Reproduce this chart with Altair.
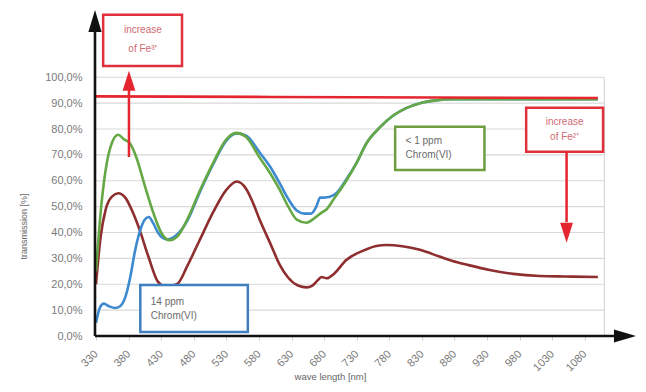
import altair as alt
import pandas as pd

# ---------------- data ----------------
green_nm = [330, 338, 346, 355, 364, 373, 382, 392, 405, 418, 430, 443, 455, 470, 490, 510, 530, 545, 560, 581,
            597, 612, 625, 638, 653, 665, 675, 684, 695, 714, 730, 745, 765, 785, 805, 827, 850, 875, 900, 950,
            1000, 1050, 1100]
green_val = [25, 50, 66, 75, 77.8, 76, 74.5, 69, 58, 47.6, 40, 37, 38.5, 45, 56.5, 67, 76, 78.5, 77, 69,
             63, 56.5, 50, 45, 43.8, 45.5, 47.5, 49, 53, 60, 67, 74.5, 80.5, 85, 88, 90, 91, 91.5, 91.5, 91.5,
             91.5, 91.5, 91.5]

blue_nm = [330, 336, 342, 350, 359, 367, 375, 382, 390, 398, 405, 411, 418, 425, 432, 440, 450, 470, 490, 510,
           530, 545, 560, 581, 597, 612, 625, 638, 650, 660, 668, 674, 680, 689, 700, 714, 730, 745, 765, 785,
           805, 827, 850, 875, 900, 950, 1000, 1050, 1100]
blue_val = [5, 11, 12.5, 11.5, 10.8, 11.5, 15, 22, 33, 41, 45, 46, 43.5, 40, 38, 37.3, 38.3, 44.5, 56, 66.5,
            75.5, 78.3, 77.5, 71, 65.5, 59, 53, 48.5, 47.3, 47.3, 50, 53.5, 53.5, 53.8, 55.5, 60.5, 67, 74.5, 80.5, 85,
            88, 90, 91, 91.5, 91.5, 91.5, 91.5, 91.5, 91.5]

brown_nm = [330, 337, 345, 355, 364, 375, 387, 397, 410, 425, 438, 447, 456, 470, 489, 510, 530, 546, 560, 570,
            581, 597, 612, 625, 640, 653, 662, 670, 676, 684, 695, 714, 740, 760, 776, 800, 827, 857, 877, 900,
            934, 970, 1011, 1050, 1100]
brown_val = [20, 38, 49, 54, 55.2, 53.5, 47.5, 41, 31, 21, 19, 19.5, 20.4, 27, 37, 48, 56.5, 59.7, 57, 52,
             45, 36, 27.5, 22.5, 19.5, 18.8, 19.5, 21.5, 22.8, 22.3, 24, 29.4, 33, 34.8, 35.2, 34.7, 33.3, 30.7, 29, 27.5,
             25.5, 24, 23.2, 23, 22.8]

red_nm = [330, 600, 850, 1100]
red_val = [92.6, 92.4, 92.2, 92.0]

x_ticks = [330, 380, 430, 480, 530, 580, 630, 680, 730, 780, 830, 880, 930, 980, 1030, 1080]
y_ticks = [0, 10, 20, 30, 40, 50, 60, 70, 80, 90, 100]
grid_levels = [10, 20, 30, 40, 50, 60, 70, 80, 90, 100]

# ---------------- layout constants ----------------
X_MIN, X_MAX = 328.5, 1158.5
Y_MIN, Y_MAX = 0, 126
GRID_RIGHT = 1110
FONT = "Liberation Sans"

xs = alt.Scale(domain=[X_MIN, X_MAX], nice=False, zero=False)
ys = alt.Scale(domain=[Y_MIN, Y_MAX], nice=False, zero=False)

x_axis = alt.Axis(
    values=x_ticks, format="d", labelAngle=315, labelAlign="right", labelBaseline="middle",
    labelFontSize=11, labelColor="#7a7a7a", labelFont=FONT, labelPadding=12,
    ticks=True, tickSize=4, tickColor="#cfcfcf", domain=False, grid=False,
    title="wave length [nm]", titleFont=FONT, titleFontSize=9.5, titleFontWeight="normal",
    titleColor="#666666", titleX=235, titleY=40, titleAlign="center", titleBaseline="middle")
y_axis = alt.Axis(
    values=y_ticks, labelExpr="replace(format(datum.value, '.1f'), '.', ',') + '%'",
    labelFontSize=11, labelColor="#7a7a7a", labelFont=FONT, labelPadding=13,
    ticks=False, domain=False, grid=False,
    title="transmission [%]", titleFont=FONT, titleFontSize=9, titleFontWeight="normal",
    titleColor="#666666", titleX=-72, titleY=216, titleAngle=270,
    titleAlign="center", titleBaseline="middle")


def XN(field="x"):
    return alt.X(f"{field}:Q", scale=xs, axis=x_axis)


def YN(field="y"):
    return alt.Y(f"{field}:Q", scale=ys, axis=y_axis)


grid_df = pd.DataFrame({"y": grid_levels, "x": [X_MIN + 1.5] * len(grid_levels),
                        "x2": [GRID_RIGHT] * len(grid_levels)})
grid = alt.Chart(grid_df).mark_rule(color="#d9d9d9", strokeWidth=1.2).encode(
    x=XN(), x2="x2:Q", y=YN())

border_df = pd.DataFrame({"x": [GRID_RIGHT], "y": [0], "y2": [100]})
border = alt.Chart(border_df).mark_rule(color="#d9d9d9", strokeWidth=1.2).encode(
    x=XN(), y=YN(), y2="y2:Q")


def curve(nm, val, color, width=2.6):
    df = pd.DataFrame({"x": nm, "y": val})
    return alt.Chart(df).mark_line(color=color, strokeWidth=width, interpolate="monotone").encode(
        x=XN(), y=YN())


brown_line = curve(brown_nm, brown_val, "#8e2e2e")
blue_line = curve(blue_nm, blue_val, "#3d8ad0")
green_line = curve(green_nm, green_val, "#65a845")
red_line = curve(red_nm, red_val, "#e3262f")

boxes_df = pd.DataFrame({
    "x": [341, 990, 789, 398],
    "x2": [462, 1108, 926, 563],
    "y": [124.2, 88.2, 80.9, 19.7],
    "y2": [104.4, 71.2, 64.2, 1.5],
    "c": ["#e0303c", "#e0303c", "#6e9e3e", "#3f7fbf"],
})
boxes = alt.Chart(boxes_df).mark_rect(fill="white", strokeWidth=2.5).encode(
    x=XN(), x2="x2:Q", y=YN(), y2="y2:Q",
    stroke=alt.Stroke("c:N", scale=None))

red_txt_df = pd.DataFrame({
    "x": [402, 402, 1049, 1049],
    "y": [118.4, 110.8, 82.9, 77.0],
    "t": ["increase", "of Fe³⁺", "increase", "of Fe²⁺"],
})
red_txt = alt.Chart(red_txt_df).mark_text(font=FONT, fontSize=10, color="#d06a72",
                                          align="center", baseline="middle").encode(
    x=XN(), y=YN(), text="t:N")

grey_txt_df = pd.DataFrame({
    "x": [805, 805, 414, 414],
    "y": [75.2, 70.0, 13.3, 7.6],
    "t": ["< 1 ppm", "Chrom(VI)", "14 ppm", "Chrom(VI)"],
})
grey_txt = alt.Chart(grey_txt_df).mark_text(font=FONT, fontSize=10, color="#6a6a6a",
                                            align="left", baseline="middle").encode(
    x=XN(), y=YN(), text="t:N")

shaft_df = pd.DataFrame({"x": [380.6, 1052], "y": [69.2, 71.2], "y2": [96, 44]})
shafts = alt.Chart(shaft_df).mark_rule(color="#e3262f", strokeWidth=2.5).encode(
    x=XN(), y=YN(), y2="y2:Q")
head_up = alt.Chart(pd.DataFrame({"x": [380.6], "y": [102.5]})).mark_point(
    shape="M0,0L0.32,1L-0.32,1Z", size=1600, filled=True, color="#e3262f", opacity=1, strokeWidth=0
).encode(x=XN(), y=YN())
head_down = alt.Chart(pd.DataFrame({"x": [1052], "y": [36]})).mark_point(
    shape="M0,0L0.32,-1L-0.32,-1Z", size=1600, filled=True, color="#e3262f", opacity=1, strokeWidth=0
).encode(x=XN(), y=YN())

yaxis_line = alt.Chart(pd.DataFrame({"x": [X_MIN], "y": [0], "y2": [118]})).mark_rule(
    color="#111111", strokeWidth=2.6).encode(x=XN(), y=YN(), y2="y2:Q")
xaxis_line = alt.Chart(pd.DataFrame({"x": [X_MIN], "x2": [1126], "y": [0]})).mark_rule(
    color="#111111", strokeWidth=2.6).encode(x=XN(), x2="x2:Q", y=YN())
yaxis_head = alt.Chart(pd.DataFrame({"x": [X_MIN], "y": [Y_MAX]})).mark_point(
    shape="M0,0L0.3,1L-0.3,1Z", size=1936, filled=True, color="#111111", opacity=1, strokeWidth=0
).encode(x=XN(), y=YN())
xaxis_head = alt.Chart(pd.DataFrame({"x": [X_MAX], "y": [0]})).mark_point(
    shape="M0,0L-1,0.3L-1,-0.3Z", size=1936, filled=True, color="#111111", opacity=1, strokeWidth=0
).encode(x=XN(), y=YN())

chart = alt.layer(
    grid, border, brown_line, blue_line, green_line, red_line,
    boxes, red_txt, grey_txt, shafts, head_up, head_down,
    yaxis_line, xaxis_line, yaxis_head, xaxis_head,
).properties(
    width=541, height=326,
    autosize=alt.AutoSizeParams(type="none"),
    padding={"left": 87, "top": 2, "right": 0, "bottom": 48},
    background="white",
).configure_view(stroke=None)

chart.save("out.html", embed_options={"renderer": "svg", "actions": False})
